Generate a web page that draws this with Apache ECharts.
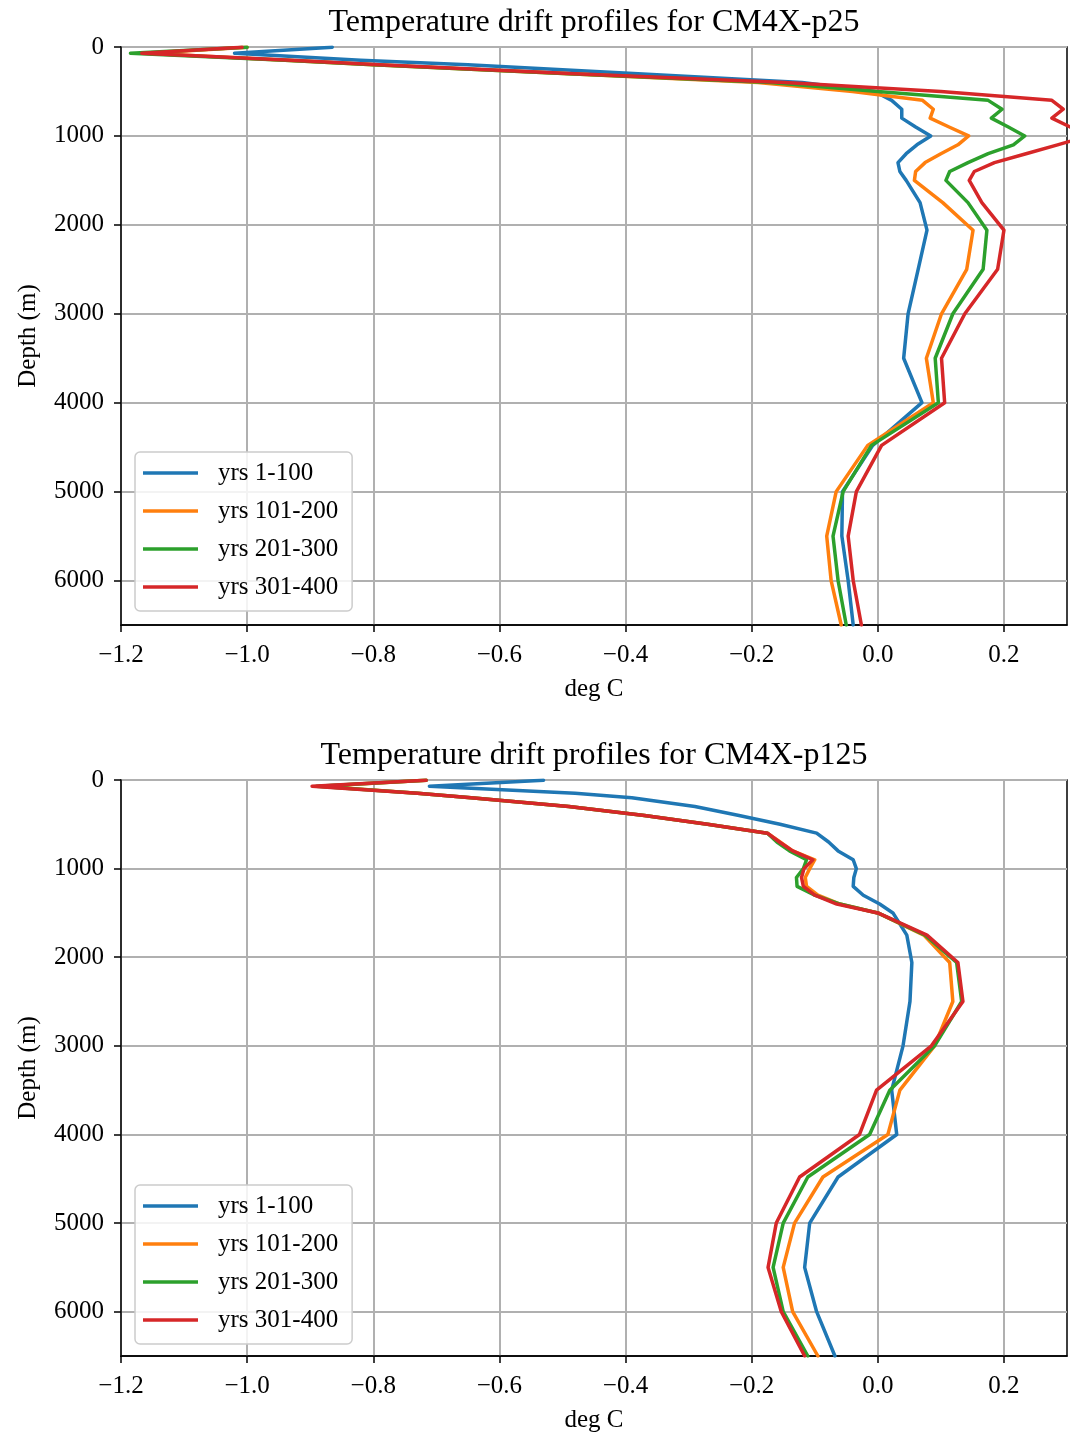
<!DOCTYPE html>
<html>
<head>
<meta charset="utf-8">
<title>Temperature drift profiles</title>
<script src="https://cdn.jsdelivr.net/npm/echarts@6/dist/echarts.min.js"></script>
<style>
  html, body { margin: 0; padding: 0; background: #ffffff; }
  #chart { width: 1071px; height: 1434px; }
</style>
</head>
<body>
<div id="chart"></div>
<script>
// Depth levels (m) shared by every profile
const depthLevels = [2.5, 70, 150, 200, 300, 400, 500, 600, 700, 800, 900, 1000, 1100, 1200, 1300, 1400, 1500, 1750, 2060, 2500, 3000, 3500, 4000, 4480, 5000, 5500, 6000, 6500];

const seriesNames = ['yrs 1-100', 'yrs 101-200', 'yrs 201-300', 'yrs 301-400'];
const seriesColors = ['#1f77b4', '#ff7f0e', '#2ca02c', '#d62728'];

// CM4X-p25 temperature drift (deg C)
const p25_yrs1_100 = [-0.865, -1.02, -0.82, -0.65, -0.38, -0.12, -0.005, 0.022, 0.038, 0.038, 0.06, 0.084, 0.062, 0.045, 0.032, 0.035, 0.045, 0.067, 0.078, 0.064, 0.048, 0.041, 0.070, -0.008, -0.056, -0.057, -0.047, -0.039];
const p25_yrs101_200 = [-1.0, -1.16, -0.94, -0.80, -0.49, -0.19, -0.04, 0.071, 0.088, 0.083, 0.113, 0.144, 0.127, 0.10, 0.075, 0.06, 0.058, 0.103, 0.151, 0.141, 0.101, 0.077, 0.088, -0.016, -0.066, -0.081, -0.074, -0.058];
const p25_yrs201_300 = [-1.0, -1.185, -0.94, -0.80, -0.49, -0.17, 0.0, 0.175, 0.197, 0.18, 0.207, 0.233, 0.215, 0.175, 0.143, 0.114, 0.108, 0.143, 0.173, 0.167, 0.119, 0.091, 0.096, -0.010, -0.055, -0.071, -0.063, -0.050];
const p25_yrs301_400 = [-1.008, -1.167, -0.93, -0.79, -0.48, -0.147, 0.10, 0.276, 0.294, 0.276, 0.305, 0.335, 0.285, 0.235, 0.185, 0.153, 0.145, 0.165, 0.20, 0.19, 0.138, 0.101, 0.106, 0.006, -0.034, -0.047, -0.039, -0.026];

// CM4X-p125 temperature drift (deg C)
const p125_yrs1_100 = [-0.53, -0.711, -0.48, -0.39, -0.29, -0.22, -0.155, -0.097, -0.078, -0.063, -0.039, -0.034, -0.038, -0.039, -0.023, 0.003, 0.024, 0.046, 0.054, 0.051, 0.04, 0.022, 0.030, -0.063, -0.108, -0.116, -0.097, -0.068];
const p125_yrs101_200 = [-0.716, -0.885, -0.73, -0.645, -0.49, -0.37, -0.27, -0.175, -0.155, -0.135, -0.10, -0.108, -0.115, -0.113, -0.095, -0.06, 0.0, 0.073, 0.114, 0.119, 0.09, 0.035, 0.016, -0.087, -0.132, -0.15, -0.135, -0.095];
const p125_yrs201_300 = [-0.716, -0.89, -0.73, -0.645, -0.49, -0.37, -0.27, -0.175, -0.16, -0.14, -0.113, -0.118, -0.129, -0.128, -0.10, -0.06, 0.0, 0.075, 0.125, 0.133, 0.09, 0.019, -0.013, -0.111, -0.15, -0.166, -0.15, -0.111];
const p125_yrs301_400 = [-0.716, -0.897, -0.73, -0.645, -0.49, -0.37, -0.27, -0.175, -0.156, -0.135, -0.103, -0.117, -0.121, -0.118, -0.10, -0.065, 0.0, 0.078, 0.127, 0.135, 0.085, -0.002, -0.029, -0.124, -0.161, -0.174, -0.153, -0.116];

// Axis ticks
const xTicks = [-1.2, -1.0, -0.8, -0.6, -0.4, -0.2, 0.0, 0.2];
const yTicks = [0, 1000, 2000, 3000, 4000, 5000, 6000];

const panelTitles = ['Temperature drift profiles for CM4X-p25', 'Temperature drift profiles for CM4X-p125'];
const xAxisTitle = 'deg C';
const yAxisTitle = 'Depth (m)';

const panels = [
  [p25_yrs1_100, p25_yrs101_200, p25_yrs201_300, p25_yrs301_400],
  [p125_yrs1_100, p125_yrs101_200, p125_yrs201_300, p125_yrs301_400]
];

const FONT = '"Liberation Serif", "DejaVu Serif", serif';
const plotLeft = 121, plotWidth = 946, plotHeight = 578;
const plotTops = [47, 780];

function fmtX(v) {
  const s = Math.abs(v).toFixed(1);
  return v < -1e-9 ? '\u2212' + s : s;
}

const grids = [], xAxes = [], yAxes = [], series = [], legends = [], titles = [];

plotTops.forEach(function (top, p) {
  grids.push({
    left: plotLeft, top: top, width: plotWidth, height: plotHeight,
    show: true, borderColor: '#000', borderWidth: 1.5, backgroundColor: 'transparent'
  });
  xAxes.push({
    gridIndex: p, type: 'value', min: -1.2, max: 0.3, interval: 0.2,
    name: xAxisTitle, nameLocation: 'middle', nameGap: 52,
    nameTextStyle: { fontFamily: FONT, fontSize: 25, color: '#000' },
    axisLine: { show: true, onZero: false, lineStyle: { color: '#000', width: 1.5 } },
    axisTick: { show: true, length: 7, customValues: xTicks, lineStyle: { color: '#000', width: 1.5 } },
    axisLabel: { customValues: xTicks, formatter: fmtX, margin: 18, fontFamily: FONT, fontSize: 25, color: '#000' },
    splitLine: { show: true, lineStyle: { color: '#b0b0b0', width: 2 } }
  });
  yAxes.push({
    gridIndex: p, type: 'value', inverse: true, min: 0, max: 6500, interval: 1000,
    name: yAxisTitle, nameLocation: 'middle', nameGap: 80, nameRotate: 90,
    nameTextStyle: { fontFamily: FONT, fontSize: 25, color: '#000' },
    axisLine: { show: true, onZero: false, lineStyle: { color: '#000', width: 1.5 } },
    axisTick: { show: true, length: 7, customValues: yTicks, lineStyle: { color: '#000', width: 1.5 } },
    axisLabel: { customValues: yTicks, formatter: function (v) { return String(v); },
      margin: 17, fontFamily: FONT, fontSize: 25, color: '#000' },
    splitLine: { show: true, lineStyle: { color: '#b0b0b0', width: 2 } }
  });
  panels[p].forEach(function (vals, i) {
    series.push({
      type: 'line', name: seriesNames[i], xAxisIndex: p, yAxisIndex: p,
      data: vals.map(function (v, k) { return [v, depthLevels[k]]; }),
      showSymbol: false, symbol: 'none', clip: true, smooth: false,
      color: seriesColors[i],
      lineStyle: { color: seriesColors[i], width: 3.5, join: 'round', cap: 'round' },
      z: 3 + i
    });
  });
  legends.push({
    orient: 'vertical', left: 135, top: top + 405,
    data: seriesNames.map(function (n) { return { name: n, icon: 'rect' }; }),
    itemWidth: 55, itemHeight: 3.5, itemGap: 12,
    padding: [8, 14, 11, 8],
    backgroundColor: 'rgba(255,255,255,0.85)',
    borderColor: '#cccccc', borderWidth: 1.5, borderRadius: 5,
    textStyle: { fontFamily: FONT, fontSize: 25, color: '#000', lineHeight: 26, padding: [0, 0, 0, 15] },
    selectedMode: false
  });
  titles.push({
    type: 'text', x: 594, y: top - 24,
    style: { text: panelTitles[p], align: 'center', verticalAlign: 'middle',
      font: '32px ' + FONT, fill: '#000' }
  });
});

const chart = echarts.init(document.getElementById('chart'), null, { renderer: 'canvas' });
chart.setOption({
  animation: false,
  backgroundColor: '#ffffff',
  grid: grids,
  xAxis: xAxes,
  yAxis: yAxes,
  legend: legends,
  series: series,
  graphic: titles
});
</script>
</body>
</html>
